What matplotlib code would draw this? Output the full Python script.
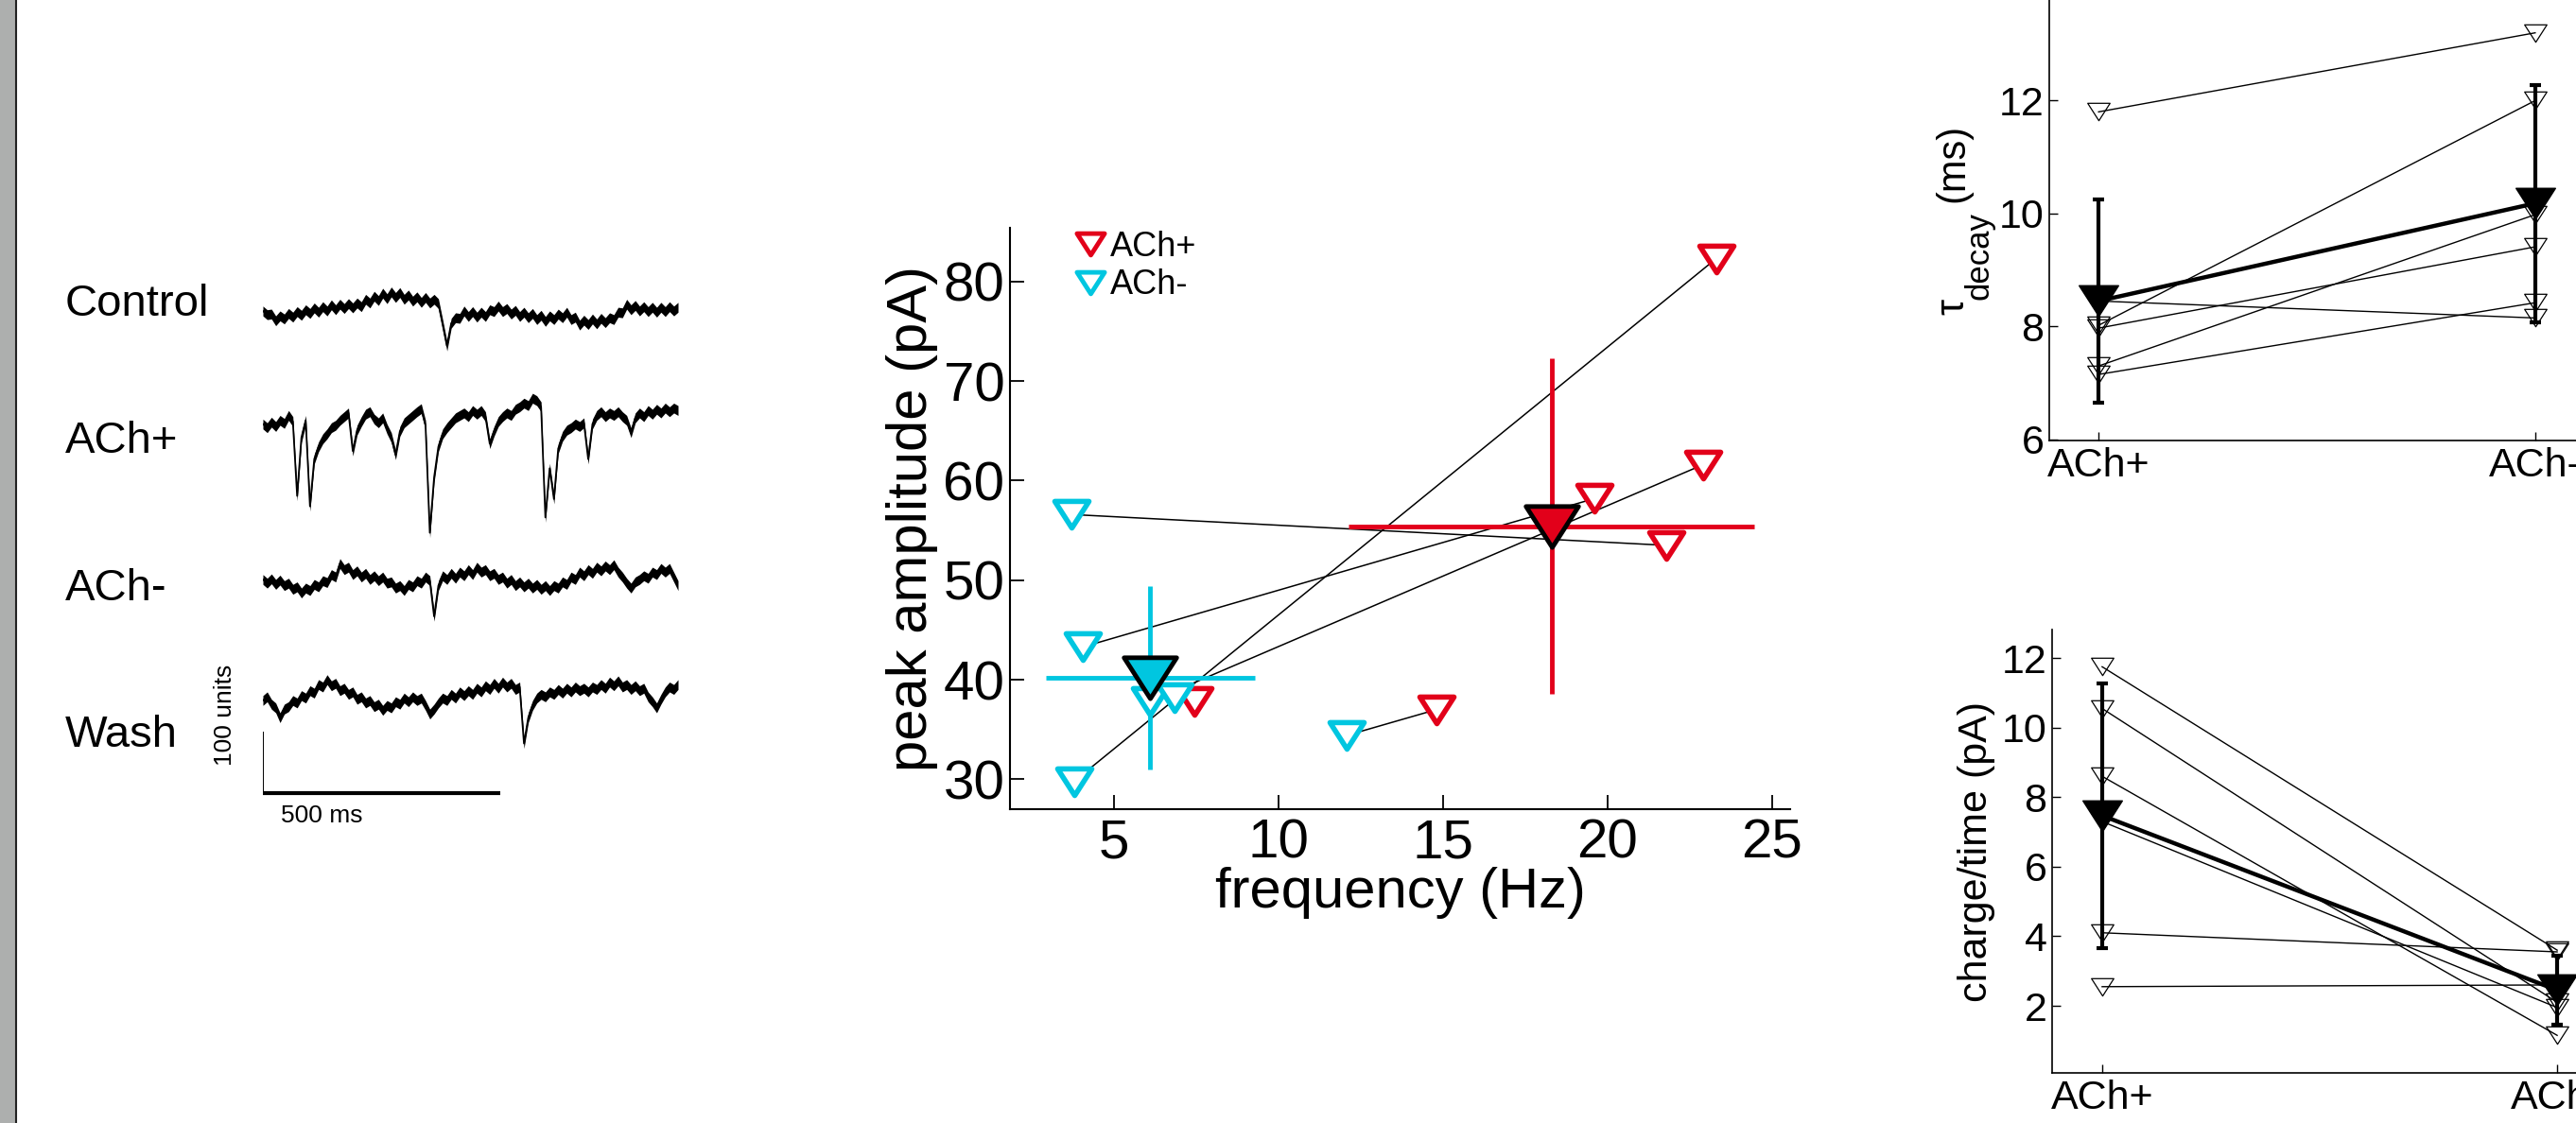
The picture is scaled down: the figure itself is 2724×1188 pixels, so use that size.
import numpy as np
import matplotlib.pyplot as plt
from matplotlib import font_manager
from matplotlib.path import Path
from matplotlib.markers import MarkerStyle
from matplotlib.patches import Rectangle
from matplotlib.lines import Line2D

plt.rcParams['font.family'] = ['Liberation Sans', 'DejaVu Sans']
installed = {f.name for f in font_manager.fontManager.ttflist}
if 'Liberation Sans Narrow' in installed:
    NARROW = ['Liberation Sans Narrow', 'DejaVu Sans']
    tick_fs, label_fs = 48, 51
else:
    NARROW = ['Liberation Sans', 'DejaVu Sans']
    tick_fs, label_fs = 42, 43

RED = '#e2001a'
CYAN = '#00c6e0'

# ---- example recordings (units, sampled every 9 ms) ----
trace_names = ['Control', 'ACh+', 'ACh-', 'Wash']
trace_t = np.arange(98) * 9
control = [2, -4, -3, -14, -6, -11, -2, -8, 1, -5,
           4, -2, 7, 0, 9, 2, 12, 4, 13, 6,
           14, 7, 15, 9, 21, 15, 26, 19, 31, 22,
           33, 24, 32, 21, 28, 18, 25, 16, 24, 15,
           21, 14, -20, -55, -18, -9, -10, 2, -7, 1,
           -8, 0, -7, 4, 1, 10, 1, 6, -3, 3,
           -7, 0, -9, -2, -12, -5, -15, -6, -12, -3,
           -9, 0, -12, -8, -21, -13, -20, -11, -19, -10,
           -17, -9, -12, 0, -1, 13, 4, 11, 2, 9,
           1, 8, 0, 8, 1, 9, 2, 8]
ach_plus = [2, -4, 5, -2, 8, 3, 16, 6, -115, -20,
            8, -132, -55, -35, -22, -14, -4, 0, 8, 14,
            20, -42, -8, 6, 18, 22, 10, 4, 12, -6,
            -20, -48, -10, 4, 10, 16, 22, 27, 0, -175,
            -85, -35, -14, -4, 4, 12, 16, 20, 14, 24,
            18, 24, 14, -30, -10, 6, 14, 20, 16, 26,
            30, 36, 32, 44, 40, 30, -150, -70, -120, -38,
            -18, -8, -4, 2, -2, 4, -55, 2, 16, 22,
            14, 20, 16, 22, 14, 8, -12, 12, 20, 14,
            24, 18, 26, 20, 28, 22, 28, 24]
ach_minus = [2, -4, 3, -6, 1, -8, -4, -14, -10, -20,
             -12, -16, -6, -10, 0, -3, 10, 6, 28, 18,
             22, 10, 16, 6, 12, 2, 8, 0, 6, -4,
             -2, -12, -8, -16, -6, -10, 0, -4, 6, 0,
             -58, -8, 8, 2, 12, 4, 14, 8, 18, 10,
             22, 14, 18, 8, 12, 2, 6, -4, 2, -8,
             -2, -10, -4, -12, -6, -14, -8, -16, -8, -12,
             -2, -6, 6, 2, 14, 8, 18, 12, 22, 16,
             24, 18, 26, 14, 6, -4, -12, -2, 2, 8,
             4, 14, 10, 20, 14, 20, 6, -8]
wash = [-2, 4, -8, -14, -30, -16, -12, -2, -6, 6,
        2, 14, 10, 24, 20, 32, 22, 26, 14, 18,
        8, 12, 0, 4, -6, -2, -12, -8, -18, -10,
        -14, -4, -8, 2, -4, 4, -2, 2, -10, -24,
        -16, -6, 2, -2, 8, 2, 12, 6, 14, 8,
        18, 12, 22, 16, 26, 18, 28, 20, 26, 16,
        20, -72, -30, -10, 2, 8, 4, 12, 8, 16,
        10, 18, 12, 20, 14, 18, 12, 20, 16, 24,
        18, 28, 22, 30, 20, 24, 16, 22, 14, 18,
        4, -4, -14, 0, 12, 20, 16, 24]
traces = [control, ach_plus, ach_minus, wash]

# ---- frequency vs amplitude (paired cells) ----
minus_freq = [3.73, 4.07, 3.8, 6.1, 6.86, 12.07]
minus_amp = [56.6, 43.3, 29.8, 37.8, 38.2, 34.4]
plus_freq = [21.8, 19.6, 23.3, 22.9, 7.46, 14.8]
plus_amp = [53.5, 58.2, 82.3, 61.6, 37.8, 37.0]
plus_mean = (18.3, 55.4)
plus_sd = (6.16, 16.85)
minus_mean = (6.11, 40.2)
minus_sd = (3.17, 9.2)

# ---- tau decay ----
tau_plus = [11.8, 8.02, 7.3, 7.97, 8.45, 7.15]
tau_minus = [13.2, 12.0, 9.98, 9.41, 8.15, 8.42]
tau_mean = [8.45, 10.18]
tau_sd = [1.8, 2.1]

# ---- charge/time ----
q_plus = [11.75, 10.55, 8.6, 7.3, 4.1, 2.55]
q_minus = [3.6, 2.1, 1.15, 1.95, 3.55, 2.6]
q_mean = [7.47, 2.45]
q_sd = [3.8, 1.0]

conds = ['ACh+', 'ACh-']

W, H = 2724, 1188
fig = plt.figure(figsize=(W / 100, H / 100), dpi=100)


def px_axes(x0, x1, y0, y1):
    return fig.add_axes([x0 / W, 1 - y1 / H, (x1 - x0) / W, (y1 - y0) / H])


tri = Path([(-1, 0.78), (1, 0.78), (0, -0.78), (-1, 0.78)],
           [Path.MOVETO, Path.LINETO, Path.LINETO, Path.CLOSEPOLY])
tri_m = MarkerStyle(tri, joinstyle='miter')

# grey strip on the left
fig.add_artist(Rectangle((0, 0), 16 / W, 1, transform=fig.transFigure,
                         color='#adafae', lw=0))
fig.add_artist(Line2D([17 / W, 17 / W], [0, 1], transform=fig.transFigure,
                      color='#222222', lw=1.5))

# ---- traces ----
ax0 = px_axes(278, 717, 250, 860)
ax0.set_xlim(0, 873)
ax0.set_ylim(0, 938.5)
ax0.axis('off')
base = [815, 631, 378, 185]
for tr, b in zip(traces, base):
    y = np.array(tr) + b
    # recording noise makes the trace a band rather than a line
    ax0.fill_between(trace_t, y - 8, y + 8, color='k', lw=0)
    ax0.plot(trace_t, y, color='k', lw=1.3)
ax0.plot([0, 0], [32, 132], color='k', lw=1.4, solid_capstyle='butt')
ax0.plot([0, 500], [32, 32], color='k', lw=3, solid_capstyle='butt')
ax0.text(-80, 160, '100 units', rotation=90, ha='center', va='center', fontsize=19)
ax0.text(124, -5, '500 ms', ha='center', va='center', fontsize=19)
label_y = [322, 467, 623, 778]
for name, yy in zip(trace_names, label_y):
    fig.text(69 / W, 1 - yy / H, name, ha='left', va='center', fontsize=34)

# ---- scatter ----
ax1 = px_axes(1068, 1893, 241, 856)
for fm, am, fp, ap in zip(minus_freq, minus_amp, plus_freq, plus_amp):
    ax1.plot([fm, fp], [am, ap], color='k', lw=1.1, zorder=1)
ax1.errorbar(plus_mean[0], plus_mean[1], xerr=plus_sd[0], yerr=plus_sd[1],
             fmt='none', ecolor=RED, elinewidth=3.5, capsize=0, zorder=2)
ax1.errorbar(minus_mean[0], minus_mean[1], xerr=minus_sd[0], yerr=minus_sd[1],
             fmt='none', ecolor=CYAN, elinewidth=3.5, capsize=0, zorder=2)
ax1.plot(plus_freq, plus_amp, ls='none', marker=tri_m, ms=26, mfc='white',
         mec=RED, mew=4, zorder=3)
ax1.plot(minus_freq, minus_amp, ls='none', marker=tri_m, ms=26, mfc='white',
         mec=CYAN, mew=4, zorder=3)
ax1.plot(*plus_mean, ls='none', marker=tri_m, ms=40, mfc=RED, mec='k', mew=3.5, zorder=4)
ax1.plot(*minus_mean, ls='none', marker=tri_m, ms=40, mfc=CYAN, mec='k', mew=3.5, zorder=4)
ax1.set_xlim(1.85, 25.55)
ax1.set_ylim(27.0, 85.4)
ax1.set_xticks([5, 10, 15, 20, 25])
ax1.set_yticks([30, 40, 50, 60, 70, 80])
for s in ['top', 'right']:
    ax1.spines[s].set_visible(False)
for s in ['left', 'bottom']:
    ax1.spines[s].set_linewidth(1.5)
ax1.tick_params(direction='in', length=11, width=1.3, labelsize=tick_fs)
ax1.tick_params(axis='x', pad=7)
ax1.tick_params(axis='y', pad=4)
for lab in ax1.get_xticklabels() + ax1.get_yticklabels():
    lab.set_family(NARROW)
ax1.set_xlabel('frequency (Hz)', fontsize=label_fs, labelpad=-2, family=NARROW)
ax1.set_ylabel('peak amplitude (pA)', fontsize=label_fs, labelpad=4, family=NARROW)
handles = [Line2D([], [], ls='none', marker=tri_m, ms=21, mfc='white', mec=c, mew=3.5)
           for c in (RED, CYAN)]
ax1.legend(handles, conds, loc='upper left', bbox_to_anchor=(0.083, 0.995),
           frameon=False, fontsize=26, handlelength=0.9, handletextpad=0.15,
           labelspacing=0.15, borderaxespad=0, borderpad=0)


def paired(ax, a, b, mean, sd):
    for p, m in zip(a, b):
        ax.plot([1, 2], [p, m], color='k', lw=1.0, marker=tri_m, ms=17,
                mfc='none', mec='k', mew=0.9, zorder=2)
    ax.errorbar([1, 2], mean, yerr=sd, fmt='none', ecolor='k', elinewidth=3,
                capsize=4, capthick=3, zorder=3)
    ax.plot([1, 2], mean, color='k', lw=3.2, marker=tri_m, ms=30, mfc='k',
            mec='k', zorder=4)
    ax.set_xticks([1, 2])
    ax.set_xticklabels(conds)
    for s in ['top', 'right']:
        ax.spines[s].set_visible(False)
    for s in ['left', 'bottom']:
        ax.spines[s].set_linewidth(1.2)
    ax.tick_params(direction='in', length=6.5, width=1.0, labelsize=31)
    ax.tick_params(axis='x', pad=5)
    ax.tick_params(axis='y', pad=4)


# ---- tau decay ----
ax2 = px_axes(2167, 2733, -31, 466)
paired(ax2, tau_plus, tau_minus, tau_mean, tau_sd)
ax2.set_xlim(0.887, 2.113)
ax2.set_ylim(5.98, 14.3)
ax2.set_yticks([6, 8, 10, 12])
ax2.text(-0.18, 0.285, '\u03c4', rotation=90, ha='center', va='center',
         fontsize=31, transform=ax2.transAxes)
ax2.text(-0.13, 0.393, 'decay', rotation=90, ha='center', va='center',
         fontsize=25, transform=ax2.transAxes)
ax2.text(-0.18, 0.591, '(ms)', rotation=90, ha='center', va='center',
         fontsize=30, transform=ax2.transAxes)

# ---- charge/time ----
ax3 = px_axes(2170, 2757, 666, 1135)
paired(ax3, q_plus, q_minus, q_mean, q_sd)
ax3.set_xlim(0.89, 2.11)
ax3.set_ylim(0.07, 12.82)
ax3.set_yticks([2, 4, 6, 8, 10, 12])
ax3.set_ylabel('charge/time (pA)', fontsize=31, labelpad=5)

fig.savefig('out.png', dpi=100)
